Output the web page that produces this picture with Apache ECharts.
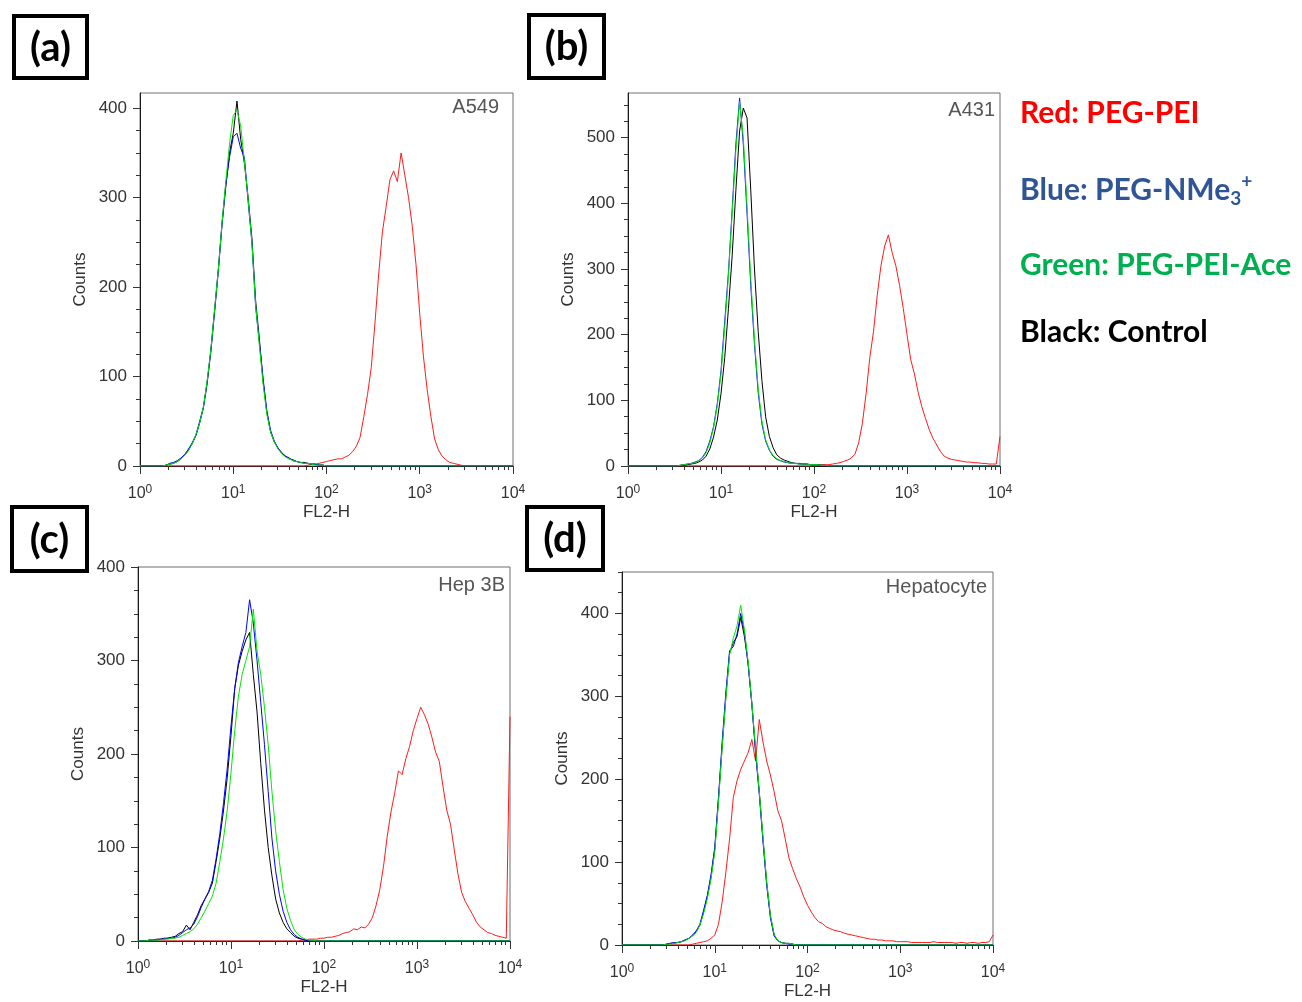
<!DOCTYPE html>
<html>
<head>
<meta charset="utf-8">
<title>Flow cytometry histograms</title>
<script src="https://cdn.jsdelivr.net/npm/echarts@6/dist/echarts.min.js"></script>
<style>
  html, body { margin: 0; padding: 0; background: #fff; }
  #chart { width: 1302px; height: 1002px; }
</style>
</head>
<body>
<div id="chart"></div>
<script>
// Histogram bins are 0.04 decade wide on the FL2-H log scale.
// Each trace lists counts from its first occupied bin (given in decades).
const BIN = 0.04;

// (a) A549
const a549PegPei    = { from: 1.80, counts: [1,2,2,3,4,5,6,7,8,8,10,12,16,22,32,55,80,110,160,215,262,290,320,330,318,350,325,300,268,225,170,122,85,55,30,18,11,7,4,3,2,1] };
const a549Control   = { from: 0.28, counts: [1,2,3,5,8,12,18,25,34,48,65,92,128,172,218,270,312,350,372,408,365,338,300,255,185,142,95,60,38,27,20,15,11,8,7,5,4,4,3,2,2,1,1] };
const a549PegNMe3   = { from: 0.28, counts: [1,3,4,6,9,13,19,26,35,50,66,94,130,175,220,272,315,345,368,372,355,345,295,250,178,138,98,62,40,28,20,14,11,9,6,5,4,3,3,2,2,1,1] };
const a549PegPeiAce = { from: 0.28, counts: [1,2,3,5,8,12,17,25,35,48,66,95,130,175,220,272,318,360,392,398,380,340,298,250,180,135,92,58,38,27,19,14,10,8,6,5,4,3,3,2,1,1,1] };

// (b) A431
const a431PegPei    = { from: 2.00, counts: [1,1,2,2,2,3,4,5,7,9,12,18,35,65,110,165,205,260,305,335,352,325,305,275,240,200,162,140,112,90,72,55,42,32,22,15,12,10,9,8,7,6,6,5,5,4,4,3,3,3,45] };
const a431Control   = { from: 0.56, counts: [1,1,2,3,4,6,9,15,26,44,70,110,165,240,320,420,510,545,530,420,300,205,130,75,45,28,17,12,9,7,5,4,4,3,3,2,2,2,1,1] };
const a431PegNMe3   = { from: 0.56, counts: [1,2,3,4,6,8,13,22,38,60,95,145,220,295,390,490,560,490,385,275,185,112,64,38,24,15,10,8,6,5,4,4,3,3,3,2,2,2,1,1] };
const a431PegPeiAce = { from: 0.56, counts: [1,2,3,4,5,8,12,20,35,58,92,140,212,290,385,480,555,500,395,285,192,118,68,40,25,16,11,8,7,5,4,4,3,3,3,2,2,2,1,1] };

// (c) Hep 3B
const hep3bPegPei    = { from: 1.76, counts: [1,1,2,2,2,3,3,4,4,5,6,8,9,10,13,12,15,14,18,25,38,55,80,112,138,158,182,178,195,208,225,238,250,242,232,218,202,192,165,140,125,98,72,52,42,35,28,20,15,12,9,8,6,5,4,3,240] };
const hep3bControl   = { from: 0.12, counts: [1,1,2,2,3,3,4,5,8,10,17,12,20,28,38,45,52,62,85,110,140,175,220,270,295,310,322,330,285,245,190,140,100,70,45,30,20,13,9,5,3,2,1] };
const hep3bPegNMe3   = { from: 0.12, counts: [1,1,1,2,2,3,3,4,6,9,12,14,18,26,36,45,53,65,88,115,148,185,230,270,298,315,330,365,340,300,255,210,160,110,75,50,32,20,12,7,4,2,1] };
const hep3bPegPeiAce = { from: 0.12, counts: [1,1,1,1,2,2,3,3,4,6,8,10,13,18,25,32,40,48,62,85,110,140,180,225,262,285,300,315,355,310,285,250,210,160,118,85,55,35,22,12,7,4,2,1,1] };

// (d) Hepatocyte
const hepatoPegPei    = { from: 0.76, counts: [1,2,3,4,5,8,12,25,52,88,128,178,198,212,222,232,248,222,272,245,222,205,185,162,150,128,105,92,80,70,58,48,40,33,28,26,22,20,18,17,16,14,13,12,11,10,9,8,7,7,6,6,5,5,5,4,4,4,4,3,3,3,3,3,3,4,3,3,3,3,3,2,3,3,2,3,3,2,3,3,4,12] };
const hepatoControl   = { from: 0.48, counts: [1,2,2,3,4,6,8,11,16,24,40,58,82,115,175,240,300,352,365,372,395,372,340,290,235,185,128,75,35,12,5,3,2,2,1] };
const hepatoPegNMe3   = { from: 0.48, counts: [1,2,3,3,4,6,8,12,17,25,42,60,85,118,178,245,305,355,360,375,400,378,338,292,232,182,125,72,33,11,5,3,2,1,1] };
const hepatoPegPeiAce = { from: 0.48, counts: [1,1,2,3,4,5,8,11,15,24,38,56,80,112,172,238,298,350,370,385,410,380,342,292,238,185,130,76,36,13,5,3,2,2,1] };

// Axis tick labels
const countTicks400 = [0, 100, 200, 300, 400];
const countTicks500 = [0, 100, 200, 300, 400, 500];
const decadeMinorMultiples = [2, 3, 4, 5, 6, 7, 8, 9];

// Trace colours: PEG-PEI, control, PEG-NMe3+, PEG-PEI-Ace
const traceColors = ['#ff1a1a', '#000000', '#0000ff', '#00e600'];

const panels = [
  { tag: '(a)', cell: 'A549',       yMax: 417, yTicks: countTicks400,
    traces: [a549PegPei, a549Control, a549PegNMe3, a549PegPeiAce],
    grid: { left: 140, top: 93, width: 373, height: 373 },
    tagBox: [14, 16, 73, 62], cellPos: [499, 107] },
  { tag: '(b)', cell: 'A431',       yMax: 568, yTicks: countTicks500,
    traces: [a431PegPei, a431Control, a431PegNMe3, a431PegPeiAce],
    grid: { left: 628, top: 93, width: 372, height: 373 },
    tagBox: [529, 15, 75, 63], cellPos: [995, 110] },
  { tag: '(c)', cell: 'Hep 3B',     yMax: 400, yTicks: countTicks400,
    traces: [hep3bPegPei, hep3bControl, hep3bPegNMe3, hep3bPegPeiAce],
    grid: { left: 138, top: 567, width: 372, height: 374 },
    tagBox: [12, 507, 75, 64], cellPos: [505, 585] },
  { tag: '(d)', cell: 'Hepatocyte', yMax: 450, yTicks: countTicks400,
    traces: [hepatoPegPei, hepatoControl, hepatoPegNMe3, hepatoPegPeiAce],
    grid: { left: 622, top: 572, width: 371, height: 373 },
    tagBox: [527, 507, 76, 63], cellPos: [987, 587] }
];

const FONT = '"Liberation Sans", Arial, sans-serif';
const BOLD_FONT = 'Lato, "Open Sans", sans-serif';

// Convert a trace to [FL2-H, count] points spanning the full 10^0..10^4 range.
function tracePoints(trace) {
  const pts = [[1, 0]];
  if (trace.from > BIN / 2) pts.push([Math.pow(10, trace.from - BIN), 0]);
  trace.counts.forEach((c, i) => pts.push([Math.pow(10, trace.from + i * BIN), c]));
  const last = trace.from + (trace.counts.length - 1) * BIN;
  if (last < 4 - BIN / 2) {
    pts.push([Math.pow(10, last + BIN), 0]);
    pts.push([10000, 0]);
  }
  return pts;
}

const minorDecadePositions = [];
for (let d = 0; d < 4; d++) decadeMinorMultiples.forEach(m => minorDecadePositions.push(d + Math.log10(m)));

const grids = [], xAxes = [], yAxes = [], series = [], graphics = [];

panels.forEach((p, gi) => {
  grids.push(Object.assign({
    show: true, borderColor: '#6e6e6e', borderWidth: 1,
    backgroundColor: 'transparent', containLabel: false, outerBoundsMode: 'none'
  }, p.grid));

  // FL2-H decades (log axis carries the data)
  xAxes.push({
    type: 'log', logBase: 10, gridIndex: gi, min: 1, max: 10000, position: 'bottom',
    axisLine: { show: true, onZero: false, lineStyle: { color: '#1a1a1a', width: 1 } },
    axisTick: { show: true, inside: false, length: 8, lineStyle: { color: '#333' } },
    splitLine: { show: false }, minorTick: { show: false },
    axisLabel: {
      margin: 18, color: '#333',
      formatter: v => '{b|10}{s|' + Math.round(Math.log10(v)) + '}',
      rich: {
        b: { fontSize: 16, fontFamily: FONT, color: '#333', lineHeight: 20 },
        s: { fontSize: 12, fontFamily: FONT, color: '#333', lineHeight: 12, verticalAlign: 'top' }
      }
    },
    name: 'FL2-H', nameLocation: 'middle', nameGap: 38, nameMoveOverlap: false,
    nameTextStyle: { fontSize: 17, fontFamily: FONT, color: '#333' }
  });
  // minor ticks at 2..9 within each decade
  xAxes.push({
    type: 'value', gridIndex: gi, min: 0, max: 4, position: 'bottom',
    axisLine: { show: false },
    axisTick: { show: true, inside: false, length: 4, customValues: minorDecadePositions, lineStyle: { color: '#333' } },
    axisLabel: { show: false }, splitLine: { show: false }
  });

  const minorCounts = [];
  for (let v = 0; v <= p.yMax; v += 25) minorCounts.push(v);

  yAxes.push({
    type: 'value', gridIndex: gi, min: 0, max: p.yMax, position: 'left',
    axisLine: { show: true, onZero: false, lineStyle: { color: '#1a1a1a', width: 1 } },
    axisTick: { show: true, inside: false, length: 7, customValues: p.yTicks, lineStyle: { color: '#333' } },
    axisLabel: { customValues: p.yTicks, margin: 13, fontSize: 17, fontFamily: FONT, color: '#333' },
    splitLine: { show: false },
    name: 'Counts', nameLocation: 'middle', nameRotate: 90, nameGap: 51, nameMoveOverlap: false,
    nameTextStyle: { fontSize: 17, fontFamily: FONT, color: '#333' }
  });
  yAxes.push({
    type: 'value', gridIndex: gi, min: 0, max: p.yMax, position: 'left',
    axisLine: { show: false },
    axisTick: { show: true, inside: false, length: 4, customValues: minorCounts, lineStyle: { color: '#333' } },
    axisLabel: { show: false }, splitLine: { show: false }
  });

  p.traces.forEach((t, ti) => {
    series.push({
      type: 'line', xAxisIndex: gi * 2, yAxisIndex: gi * 2,
      data: tracePoints(t), symbol: 'none', showSymbol: false,
      lineStyle: { width: 1, color: traceColors[ti] }, itemStyle: { color: traceColors[ti] },
      silent: true, animation: false
    });
  });

  // panel tag box
  const [bx, by, bw, bh] = p.tagBox;
  graphics.push({
    type: 'rect', shape: { x: bx, y: by, width: bw, height: bh },
    style: { fill: 'transparent', stroke: '#000', lineWidth: 4 }
  });
  graphics.push({
    type: 'text', x: bx + bw / 2, y: by + bh / 2 + 1,
    style: { text: p.tag, font: 'bold 40px ' + BOLD_FONT, fill: '#000', align: 'center', verticalAlign: 'middle' }
  });
  // cell line caption inside the plot
  graphics.push({
    type: 'text', x: p.cellPos[0], y: p.cellPos[1],
    style: { text: p.cell, font: '20px ' + FONT, fill: '#555', align: 'right', verticalAlign: 'middle' }
  });
});

// colour key
const KEY_SIZE = 30;
graphics.push({ type: 'text', x: 1020, y: 113,
  style: { text: 'Red: PEG-PEI', font: 'bold ' + KEY_SIZE + 'px ' + BOLD_FONT, fill: '#ff0000', verticalAlign: 'middle' } });
graphics.push({ type: 'text', x: 1020, y: 190,
  style: {
    text: '{m|Blue: PEG-NMe}{sub|3}{sup|+}', verticalAlign: 'middle',
    rich: {
      m:   { fill: '#2f5597', fontSize: KEY_SIZE, fontWeight: 'bold', fontFamily: BOLD_FONT, lineHeight: 36 },
      sub: { fill: '#2f5597', fontSize: 19, fontWeight: 'bold', fontFamily: BOLD_FONT, lineHeight: 22, verticalAlign: 'bottom' },
      sup: { fill: '#2f5597', fontSize: 19, fontWeight: 'bold', fontFamily: BOLD_FONT, lineHeight: 22, verticalAlign: 'top' }
    }
  } });
graphics.push({ type: 'text', x: 1020, y: 265,
  style: { text: 'Green: PEG-PEI-Ace', font: 'bold ' + KEY_SIZE + 'px ' + BOLD_FONT, fill: '#00b050', verticalAlign: 'middle' } });
graphics.push({ type: 'text', x: 1020, y: 332,
  style: { text: 'Black: Control', font: 'bold ' + KEY_SIZE + 'px ' + BOLD_FONT, fill: '#000', verticalAlign: 'middle' } });

const chart = echarts.init(document.getElementById('chart'), null, { renderer: 'canvas' });
chart.setOption({
  backgroundColor: '#fff',
  animation: false,
  textStyle: { fontFamily: FONT },
  grid: grids,
  xAxis: xAxes,
  yAxis: yAxes,
  series: series,
  graphic: graphics
});
</script>
</body>
</html>
